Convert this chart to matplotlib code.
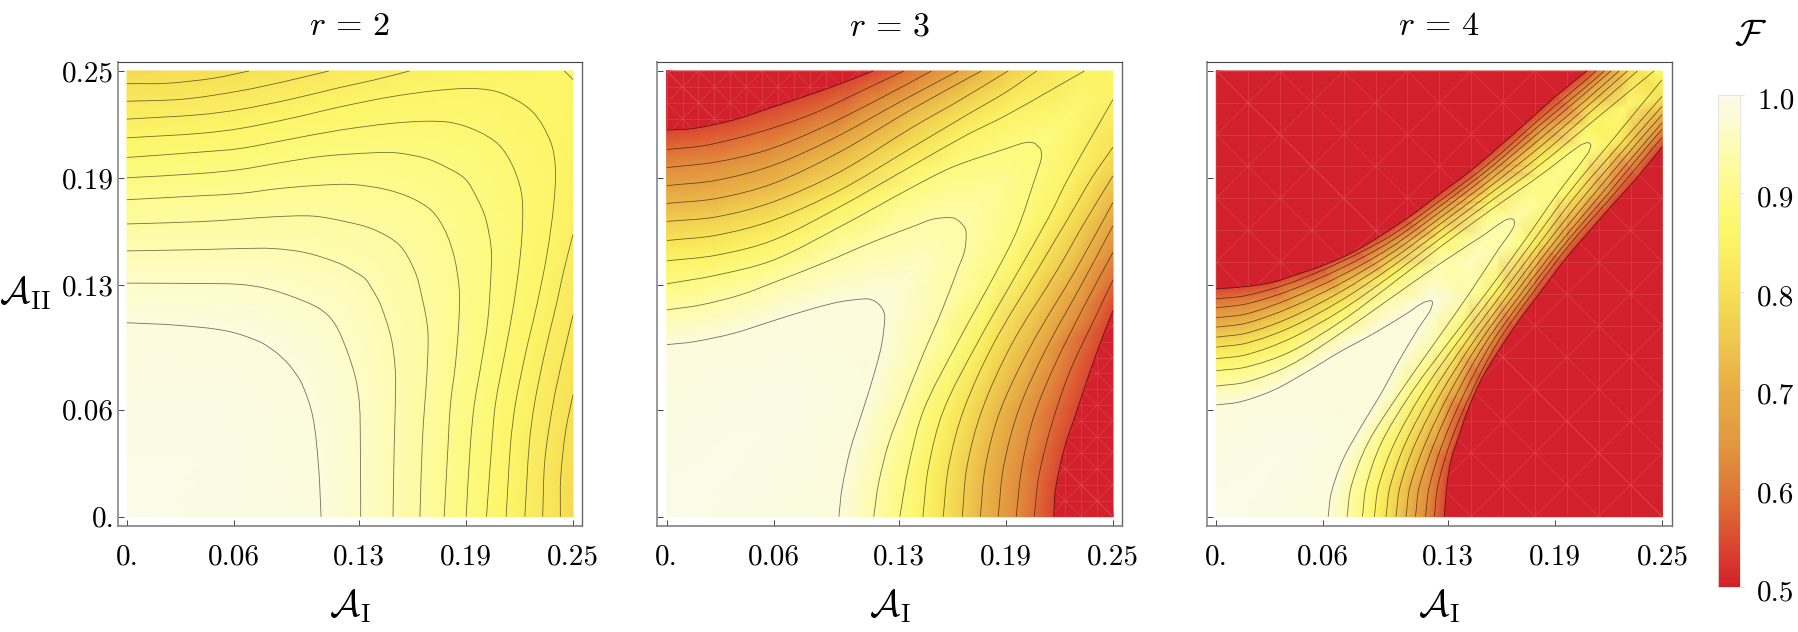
import numpy as np
import matplotlib
matplotlib.use("Agg")
import matplotlib.pyplot as plt
from matplotlib.colors import LinearSegmentedColormap, Normalize
from matplotlib.patches import PathPatch, Rectangle
from matplotlib.path import Path
from matplotlib.transforms import ScaledTranslation
from matplotlib.tri import Triangulation

plt.rcParams["font.family"] = "cmr10"
plt.rcParams["mathtext.fontset"] = "cm"
plt.rcParams["axes.formatter.use_mathtext"] = True

W, H = 1798, 632

tick_vals = [0, 0.06, 0.13, 0.19, 0.25]
tick_labels = ["0.", "0.06", "0.13", "0.19", "0.25"]
cbar_ticks = [0.5, 0.6, 0.7, 0.8, 0.9, 1.0]
cbar_labels = ["0.5", "0.6", "0.7", "0.8", "0.9", "1.0"]

# fidelity colour scale
cmap_pos = [0.5, 0.534, 0.575, 0.6, 0.65, 0.7, 0.75, 0.8, 0.86, 0.89, 0.92, 0.95, 0.98, 1.0]
cmap_col = ["#d2202c", "#da4030", "#de6535", "#e07a38", "#e39a40", "#e8ad45",
            "#f0c94e", "#f7e156", "#fdf76a", "#fdfa7e", "#fdfb98", "#fdfcb6", "#fcfbdc", "#fbfbe9"]

# contour lines, each one from the A_I = 0 edge up to the diagonal or the top edge;
# the surface is symmetric under A_I <-> A_II so the other half is its mirror
r2_levels = [0.982, 0.964, 0.946, 0.928, 0.910, 0.892, 0.874, 0.856, 0.838, 0.820, 0.802, 0.856]
r2_lines = [
    ([0, .0278, .0558, .0744, .0838, .0881], [.1088, .1074, .1042, .0981, .0920, .0881]),
    ([0, .0409, .0632, .0782, .0931, .1060, .1128], [.1310, .1308, .1303, .1280, .1233, .1178, .1128]),
    ([0, .0409, .0632, .0819, .1005, .1192, .1280, .1335], [.1491, .1498, .1504, .1504, .1480, .1420, .1372, .1335]),
    ([0, .0409, .0632, .0819, .1043, .1229, .1380, .1525], [.1642, .1655, .1669, .1682, .1686, .1654, .1612, .1525]),
    ([0, .0409, .0632, .0856, .1080, .1266, .1453, .1600, .1712], [.1778, .1800, .1813, .1841, .1859, .1863, .1835, .1785, .1712]),
    ([0, .0409, .0632, .0856, .1099, .1379, .1509, .1677, .1790, .1895], [.1901, .1925, .1947, .1985, .2022, .2041, .2041, .2009, .1960, .1895]),
    ([0, .0409, .0632, .0912, .1192, .1472, .1677, .1826, .1975, .2085], [.2015, .2045, .2065, .2117, .2168, .2205, .2218, .2209, .2158, .2085]),
    ([0, .0409, .0632, .0912, .1192, .1472, .1752, .1957, .2106, .2272], [.2125, .2150, .2177, .2233, .2298, .2354, .2392, .2401, .2373, .2272]),
    ([0, .0409, .0632, .0912, .1192, .1379, .1584], [.2230, .2255, .2284, .2340, .2407, .2448, .25]),
    ([0, .0315, .0632, .0875, .1132], [.2330, .2342, .2388, .2439, .25]),
    ([0, .0222, .0483, .0685], [.2429, .2431, .2459, .25]),
    ([.2451, .2476], [.25, .2476]),
]

r3_levels = [0.98, 0.936, 0.892, 0.848, 0.804, 0.76, 0.716, 0.672, 0.628, 0.584, 0.54]
r3_lines = [
    ([0, .0149, .0373, .0597, .0821, .0970, .1119, .1160, .1190], [.0965, .0981, .1028, .1099, .1168, .1205, .1222, .1212, .1190]),
    ([0, .0187, .0410, .0634, .0895, .1157, .1399, .1492, .1604, .1648], [.1160, .1187, .1243, .1327, .1430, .1542, .1635, .1669, .1676, .1648]),
    ([0, .0280, .0597, .0970, .1380, .1604, .1903, .2013, .2060, .2078], [.1306, .1355, .1439, .1626, .1850, .1962, .2065, .2099, .2095, .2078]),
    ([0, .0280, .0597, .0970, .1380, .1679, .1903, .2340], [.1435, .1467, .1551, .1738, .1971, .2140, .2252, .25]),
    ([0, .0280, .0597, .0970, .1380, .1679, .1903, .2073], [.1549, .1579, .1663, .1831, .2074, .2252, .2383, .25]),
    ([0, .0280, .0597, .0970, .1380, .1642, .1912], [.1656, .1682, .1766, .1934, .2186, .2336, .25]),
    ([0, .0280, .0597, .0970, .1380, .1763], [.1757, .1785, .1869, .2046, .2289, .25]),
    ([0, .0280, .0597, .0933, .1306, .1632], [.1857, .1887, .1971, .2121, .2326, .25]),
    ([0, .0280, .0560, .0858, .1194, .1483], [.1958, .1990, .2056, .2177, .2345, .25]),
    ([0, .0224, .0522, .0821, .1119, .1328], [.2059, .2084, .2158, .2261, .2401, .25]),
    ([0, .0149, .0373, .0597, .0821, .1026, .1157], [.2168, .2177, .2224, .2298, .2373, .2448, .25]),
]

r4_levels = r3_levels
r4_lines = [
    ([0, .0132, .0319, .0506, .0692, .0879, .1065, .1159, .1209], [.0627, .0644, .0709, .0812, .0924, .1026, .1138, .1200, .1209]),
    ([0, .0170, .0412, .0692, .0972, .1252, .1494, .1625, .1666], [.0733, .0756, .0849, .1026, .1222, .1418, .1577, .1666, .1666]),
    ([0, .0170, .0412, .0692, .0972, .1252, .1532, .1812, .2035, .2082, .2093], [.0819, .0840, .0924, .1091, .1297, .1511, .1716, .1912, .2080, .2099, .2093]),
    ([0, .0170, .0412, .0692, .0972, .1252, .1532, .1812, .2091, .2453], [.0886, .0909, .0998, .1153, .1347, .1558, .1765, .1972, .2202, .25]),
    ([0, .0170, .0412, .0692, .0972, .1252, .1532, .1812, .2091, .2360], [.0951, .0974, .1060, .1209, .1394, .1601, .1810, .2024, .2265, .25]),
    ([0, .0170, .0412, .0692, .0972, .1252, .1532, .1812, .2091, .2304], [.1007, .1030, .1116, .1259, .1435, .1640, .1851, .2073, .2313, .25]),
    ([0, .0170, .0412, .0692, .0972, .1252, .1532, .1812, .2091, .2257], [.1063, .1086, .1172, .1306, .1472, .1675, .1888, .2118, .2354, .25]),
    ([0, .0170, .0412, .0692, .0972, .1252, .1532, .1812, .2091, .2211], [.1116, .1138, .1222, .1349, .1507, .1709, .1924, .2159, .2396, .25]),
    ([0, .0170, .0412, .0692, .0972, .1252, .1532, .1812, .2091, .2174], [.1172, .1194, .1269, .1390, .1541, .1741, .1955, .2196, .2427, .25]),
    ([0, .0170, .0412, .0692, .0972, .1252, .1532, .1812, .2091, .2127], [.1222, .1241, .1310, .1427, .1573, .1771, .1985, .2231, .2467, .25]),
    ([0, .0170, .0319, .0450, .0599, .0785, .1065, .1252, .1438, .1718, .1905, .2077], [.1278, .1291, .1315, .1358, .1409, .1493, .1670, .1810, .1950, .2192, .2360, .25]),
]

# values in the corners: (0, 0), (0.25, 0.25), (0, 0.25) and (0.25, 0)
r2_corners = [1.0, 0.862, 0.785, 0.785]
r3_corners = [1.0, 0.862, 0.5, 0.5]
r4_corners = [1.0, 0.862, 0.5, 0.5]

# values along the diagonal A_I = A_II between the tips of the closed contours
r2_ridge_pos, r2_ridge_val = [0.0400, 0.2370], [0.995, 0.853]
r3_ridge_pos, r3_ridge_val = [0.0600, 0.1422, 0.1864, 0.2290], [0.995, 0.958, 0.914, 0.872]
r4_ridge_pos, r4_ridge_val = [0.0400, 0.1440, 0.1880, 0.2300], [0.995, 0.958, 0.914, 0.872]

panels = [("$r\\,=\\,2$", r2_levels, r2_lines, r2_corners, r2_ridge_pos, r2_ridge_val, 0),
          ("$r\\,=\\,3$", r3_levels, r3_lines, r3_corners, r3_ridge_pos, r3_ridge_val, 28),
          ("$r\\,=\\,4$", r4_levels, r4_lines, r4_corners, r4_ridge_pos, r4_ridge_val, 14)]
# frame of each panel in pixels: left, right
frames = [(117.7, 582.3), (657.3, 1122.3), (1207.0, 1671.7)]
frame_top, frame_bottom = 61.7, 526.0

norm = Normalize(0.5, 1.0)
cmap = LinearSegmentedColormap.from_list(
    "fidelity", [(norm(p), c) for p, c in zip(cmap_pos, cmap_col)], N=512)


def px_axes(fig, left, right, top, bottom):
    return fig.add_axes([left / W, 1 - bottom / H, (right - left) / W, (bottom - top) / H])


def smooth_path(xs, ys, close_to=None):
    # spline through the given points as cubic bezier segments, tangents scaled by chord length
    pts = np.column_stack([xs, ys])
    n = len(pts)
    chord = np.linalg.norm(np.diff(pts, axis=0), axis=1)
    tang = np.zeros_like(pts)
    for i in range(n):
        a, b = max(i - 1, 0), min(i + 1, n - 1)
        tang[i] = (pts[b] - pts[a]) / max(chord[a:b].sum(), 1e-9)
    verts = [pts[0]]
    codes = [Path.MOVETO]
    for i in range(n - 1):
        verts += [pts[i] + tang[i] * chord[i] / 3, pts[i + 1] - tang[i + 1] * chord[i] / 3, pts[i + 1]]
        codes += [Path.CURVE4] * 3
    if close_to is not None:
        verts += [close_to, close_to]
        codes += [Path.LINETO, Path.CLOSEPOLY]
    return Path(np.array(verts), codes)


def split_line(xs, ys):
    # a line ending on the diagonal continues as its mirror, others are two pieces
    if xs[-1] == ys[-1]:
        return [(xs + ys[-2::-1], ys + xs[-2::-1])]
    return [(xs, ys), (ys, xs)]


def add_mesh(ax, patch, cells):
    # faint seams of the plot's sampling mesh, visible on the saturated red area
    step = 0.25 / cells
    for k in range(cells + 1):
        pos = k * step
        segs = [([pos, pos], [0, .25]), ([0, .25], [pos, pos])]
        if k % 2 == 0:
            segs += [([pos, .25], [0, .25 - pos]), ([0, .25 - pos], [pos, .25]), ([0, pos], [pos, 0]), ([.25 - pos, .25], [.25, .25 - pos])]
        for sx, sy in segs:
            line, = ax.plot(sx, sy, color="#e05a58", lw=0.5, alpha=0.55, zorder=2.5)
            line.set_clip_path(patch)


def draw_panel(ax, title, levels, lines, corners, ridge_pos, ridge_val, mesh):
    px, py, pf = [0, .25, 0, .25] + ridge_pos, [0, .25, .25, 0] + ridge_pos, list(corners) + ridge_val
    for level, (xs, ys) in zip(levels, lines):
        px += xs + ys
        py += ys + xs
        pf += [level] * (2 * len(xs))
    pts, idx = np.unique(np.column_stack([px, py]), axis=0, return_index=True)
    tri = Triangulation(pts[:, 0], pts[:, 1])
    ax.tripcolor(tri, np.array(pf)[idx], shading="gouraud", cmap=cmap, norm=norm, rasterized=True)

    clip = Rectangle((0, 0), .25, .25, transform=ax.transData)
    if mesh:
        xs, ys = lines[-1]
        for a, b, corner in [(xs, ys, (0, .25)), (ys, xs, (.25, 0))]:
            red = PathPatch(smooth_path(a, b, close_to=corner), fc=cmap(0.0), ec="none", zorder=2)
            ax.add_patch(red)
            add_mesh(ax, red, mesh)
    for xs, ys in lines:
        for a, b in split_line(xs, ys):
            line = PathPatch(smooth_path(a, b), fc="none", ec="#000000", lw=0.6, alpha=0.55, zorder=3)
            ax.add_patch(line)
            line.set_clip_path(clip)

    ax.set_xlim(-0.0052, 0.2552)
    ax.set_ylim(-0.0052, 0.2552)
    ax.set_xticks(tick_vals, tick_labels)
    ax.set_yticks(tick_vals)
    ax.tick_params(direction="in", length=4.3, width=0.7, color="#444444", labelsize=21)
    ax.tick_params(axis="x", pad=13)
    ax.tick_params(axis="y", pad=2.5)
    ax.set_title(title, fontsize=24.5, pad=19)
    ax.spines["left"].set(color="#999999", lw=1.4)
    ax.spines["bottom"].set(color="#808080", lw=1.2)
    ax.spines["top"].set(color="#444444", lw=0.8)
    ax.spines["right"].set(color="#666666", lw=1.0)


fig = plt.figure(figsize=(W / 100, H / 100), dpi=100)
for i, (panel, (left, right)) in enumerate(zip(panels, frames)):
    ax = px_axes(fig, left, right, frame_top, frame_bottom)
    draw_panel(ax, *panel)
    if i == 0:
        ax.set_yticklabels(tick_labels)
    else:
        ax.set_yticklabels([])
    fig.text((left + right) / 2 / W, 1 - 606 / H, r"$\mathcal{A}_{\mathrm{I}}$", fontsize=27, ha="center", va="center")
fig.text(25 / W, 1 - 293 / H, r"$\mathcal{A}_{\mathrm{II}}$", fontsize=27, ha="center", va="center")

# colour bar
cax = px_axes(fig, 1718.3, 1739.7, 95, 587.3)
cax.imshow(np.linspace(1.0, 0.5, 400)[:, None], cmap=cmap, norm=norm, aspect="auto", extent=[0, 1, 0.5, 1.0])
cax.set_xticks([])
cax.yaxis.tick_right()
cax.set_yticks(cbar_ticks, cbar_labels)
cax.tick_params(axis="y", length=3, width=0.6, color="#dddddd", labelsize=21, pad=9.5)
shift = ScaledTranslation(0, -3 / 100, fig.dpi_scale_trans)
for lab in cax.get_yticklabels():
    lab.set_transform(lab.get_transform() + shift)
for s in cax.spines.values():
    s.set(color="#e4e4dc", lw=0.6)
fig.text(1751 / W, 1 - 35 / H, r"$\mathcal{F}$", fontsize=27, ha="center", va="center")

fig.savefig("out.png", dpi=100)
